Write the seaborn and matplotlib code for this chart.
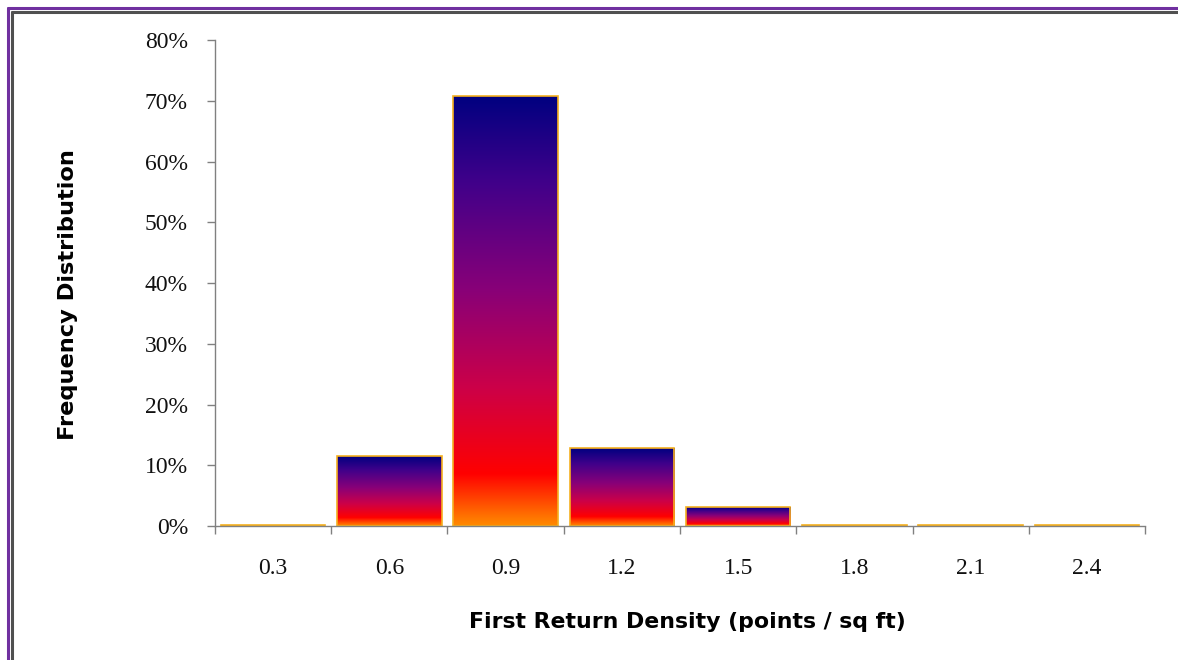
import matplotlib
matplotlib.use("Agg")
import matplotlib.pyplot as plt
import seaborn as sns
import numpy as np
import pandas as pd
from matplotlib.colors import LinearSegmentedColormap
from matplotlib.ticker import FixedLocator, PercentFormatter, FixedFormatter
from matplotlib.lines import Line2D

categories = ["0.3", "0.6", "0.9", "1.2", "1.5", "1.8", "2.1", "2.4"]
frequency = [0.1, 11.5, 70.8, 12.8, 3.1, 0.1, 0.1, 0.1]
y_ticks = [0, 10, 20, 30, 40, 50, 60, 70, 80]

sns.set_theme(style="white")
plt.rcParams["font.family"] = ["DejaVu Sans"]

df = pd.DataFrame({"density": categories, "freq": frequency})

fig = plt.figure(figsize=(11.78, 6.6), dpi=100)
ax = fig.add_axes([0.1825, 0.203, 0.7895, 0.7364])
sns.barplot(data=df, x="density", y="freq", ax=ax, width=0.9,
            color="#800080", edgecolor="#f5b020", linewidth=1.2)

grad = LinearSegmentedColormap.from_list(
    "g", [(0.0, "#ff8a00"), (0.12, "#ff0000"), (0.32, "#cc0048"),
          (0.55, "#880078"), (0.8, "#40008a"), (1.0, "#000080")])
img = np.linspace(0, 1, 256).reshape(-1, 1)
for p in ax.patches:
    x0, y0 = p.get_x(), p.get_y()
    w, h = p.get_width(), p.get_height()
    if h < 0.5:
        p.set_facecolor("#f5b020")
        continue
    p.set_facecolor("none")
    im = ax.imshow(img, cmap=grad, origin="lower", aspect="auto",
                   extent=(x0, x0 + w, y0, y0 + h), zorder=p.get_zorder() - 0.1,
                   interpolation="bilinear")
    im.set_clip_path(p)

ax.set_xlim(-0.5, len(categories) - 0.5)
ax.set_ylim(0, 80)
ax.yaxis.set_major_locator(FixedLocator(y_ticks))
ax.yaxis.set_major_formatter(PercentFormatter(decimals=0))

ax.xaxis.set_major_locator(FixedLocator(np.arange(-0.5, len(categories), 1.0)))
ax.xaxis.set_major_formatter(plt.NullFormatter())
ax.xaxis.set_minor_locator(FixedLocator(np.arange(len(categories))))
ax.xaxis.set_minor_formatter(FixedFormatter(categories))

ax.tick_params(axis="y", which="major", direction="out", length=6, width=1,
               color="#808080", left=True, pad=13.5, labelsize=17,
               labelcolor="#111111")
ax.tick_params(axis="x", which="major", direction="out", length=6, width=1,
               color="#808080", bottom=True)
ax.tick_params(axis="x", which="minor", length=0, pad=23, labelsize=17,
               labelcolor="#111111")
for lab in ax.xaxis.get_minorticklabels():
    lab.set_fontfamily("Liberation Serif")
for lab in ax.get_yticklabels():
    lab.set_fontfamily("Liberation Serif")

sns.despine(ax=ax)
for s in ["left", "bottom"]:
    ax.spines[s].set_color("#808080")
    ax.spines[s].set_linewidth(1)

ax.set_xlabel("First Return Density (points / sq ft)", fontsize=15.8,
              fontweight="bold", color="#000000", va="center")
ax.set_ylabel("Frequency Distribution", fontsize=16.2, fontweight="bold",
              color="#000000", va="center")
ax.xaxis.set_label_coords(0.5075, -0.1975)
ax.yaxis.set_label_coords(-0.158, 0.477)

# frame lines (top and left only, as cropped in the reference)
W, H = 1178, 660
fig.add_artist(Line2D([7.5 / W, 1], [1 - 7.5 / H, 1 - 7.5 / H], color="#7030a0", lw=2.2, transform=fig.transFigure))
fig.add_artist(Line2D([7.5 / W, 7.5 / W], [0, 1 - 7.5 / H], color="#7030a0", lw=2.2, transform=fig.transFigure))
fig.add_artist(Line2D([11.5 / W, 1], [1 - 11.5 / H, 1 - 11.5 / H], color="#505050", lw=2.2, transform=fig.transFigure))
fig.add_artist(Line2D([11.5 / W, 11.5 / W], [0, 1 - 11.5 / H], color="#505050", lw=2.2, transform=fig.transFigure))

fig.savefig("out.png", dpi=100)
